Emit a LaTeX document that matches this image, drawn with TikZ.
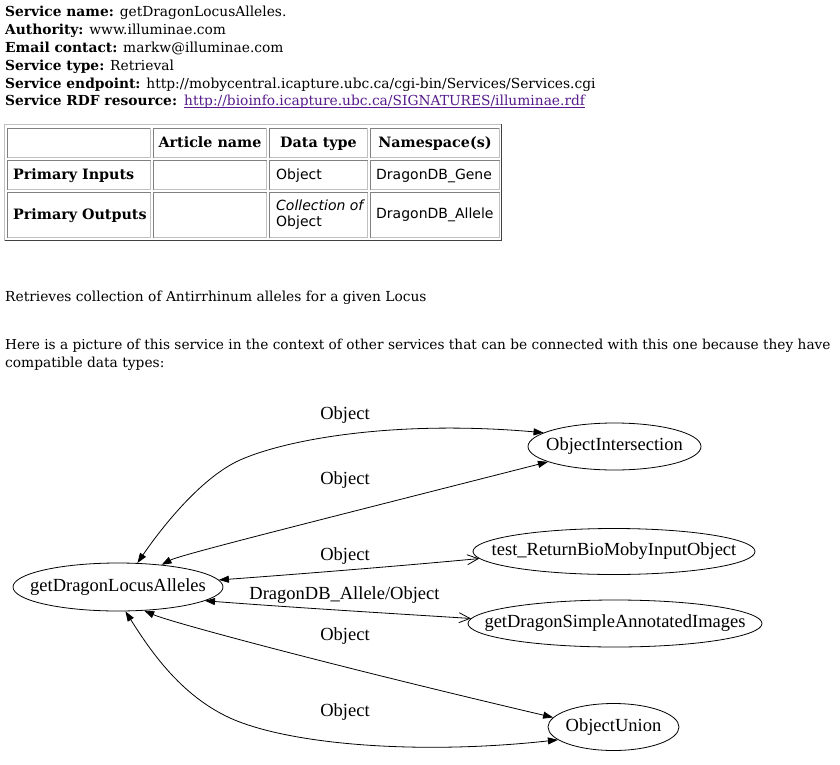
\documentclass[tikz,border=0pt]{standalone}
\usepackage{fontspec}
\setmainfont{DejaVu Serif}
\newfontfamily\gfont{Liberation Serif}
\newfontfamily\tfont{DejaVu Sans}
\usetikzlibrary{shapes.geometric,arrows.meta}
\definecolor{linkc}{HTML}{551A8B}
\definecolor{clight}{HTML}{C0C0C0}
\definecolor{cdark}{HTML}{808080}
\definecolor{odark}{HTML}{404040}
\begin{document}
\begin{tikzpicture}[x=1pt,y=-1pt,
  hdr/.style={anchor=base west, inner sep=0, font=\fontsize{13.8}{16}\selectfont},
  cell/.style={anchor=base west, inner sep=0, font=\tfont\fontsize{14}{16}\selectfont},
  chead/.style={anchor=base, inner sep=0, font=\bfseries\fontsize{14.3}{16}\selectfont},
  rowhead/.style={anchor=base west, inner sep=0, font=\bfseries\fontsize{14.3}{16}\selectfont},
  border/.style={line width=1pt},
  svc/.style={ellipse, draw, line width=0.8pt, inner sep=0},
  lbl/.style={inner sep=0, font=\gfont\fontsize{18.5}{20}\selectfont},
  fa/.style={line width=0.8pt, {Triangle[length=10pt,width=7pt]}-{Triangle[length=10pt,width=7pt]}},
  oa/.style={line width=0.8pt, {Triangle[length=10pt,width=7pt]}-{Straight Barb[length=11pt,width=10pt]}}]
\useasboundingbox (0,0) rectangle (840,765);
% header lines
\node[hdr] (h1) at (5,17) {\textbf{Service name:} getDragonLocusAlleles.};
\node[hdr] (h2) at (5,34.8) {\textbf{Authority:} www.illuminae.com};
\node[hdr] (h3) at (5,52.6) {\textbf{Email contact:} markw@illuminae.com};
\node[hdr] (h4) at (5,70.4) {\textbf{Service type:} Retrieval};
\node[hdr] (h5) at (5,88.2) {\textbf{Service endpoint:} http://mobycentral.icapture.ubc.ca/cgi-bin/Services/Services.cgi};
\node[hdr] (h6) at (5,106) {\textbf{Service RDF resource:}};
\node[hdr, text=linkc] (h6l) at (184,106) {http://bioinfo.icapture.ubc.ca/SIGNATURES/illuminae.rdf};
\draw[linkc, line width=1pt] ([yshift=-2pt]h6l.base west) -- ([yshift=-2pt]h6l.base east);
% table
\draw[border, clight] (4.5,240.5) -- (4.5,124.5) -- (501.5,124.5);
\draw[border, odark] (501.5,124.5) -- (501.5,240.5) -- (4.5,240.5);
\foreach \xa/\xb in {7.5/150.5,153.5/266.5,269.5/367.5,370.5/499.5}{
  \foreach \ya/\yb in {128.5/157.5,160.5/189.5,192.5/237.5}{
    \draw[border, cdark] (\xa,\yb) -- (\xa,\ya) -- (\xb,\ya);
    \draw[border, clight] (\xb,\ya) -- (\xb,\yb) -- (\xa,\yb);
  }}
\node[chead] (t12) at (210,147.5) {Article name};
\node[chead] (t13) at (318.5,147.5) {Data type};
\node[chead] (t14) at (435,147.5) {Namespace(s)};
\node[rowhead] (t21) at (13,179.5) {Primary Inputs};
\node[cell] (t23) at (276,179.5) {Object};
\node[cell] (t24) at (376,179.5) {DragonDB\_Gene};
\node[rowhead] (t31) at (13,219.5) {Primary Outputs};
\node[cell, font=\tfont\itshape\fontsize{14}{16}\selectfont] (t33a) at (276,210.5) {Collection of};
\node[cell] (t33b) at (276,226.5) {Object};
\node[cell] (t34) at (376,218.5) {DragonDB\_Allele};
% description
\node[hdr] (d1) at (5,301.5) {Retrieves collection of Antirrhinum alleles for a given Locus};
\node[hdr, font=\fontsize{13.7}{16}\selectfont] (d2) at (5,349.5) {Here is a picture of this service in the context of other services that can be connected with this one because they have};
\node[hdr] (d3) at (5,367) {compatible data types:};
% graph nodes
\node[svc, minimum width=210pt, minimum height=48pt] (g) at (118,587) {};
\node[lbl] (gt) at (g) {getDragonLocusAlleles};
\node[svc, minimum width=173pt, minimum height=47pt] (oi) at (614.5,446.5) {};
\node[lbl] (oit) at (oi) {ObjectIntersection};
\node[svc, minimum width=282pt, minimum height=46pt] (tr) at (614,551.5) {};
\node[lbl] (trt) at (tr) {test\_ReturnBioMobyInputObject};
\node[svc, minimum width=294pt, minimum height=47pt] (gs) at (615,623.5) {};
\node[lbl] (gst) at (gs) {getDragonSimpleAnnotatedImages};
\node[svc, minimum width=131pt, minimum height=47pt] (ou) at (613.5,727) {};
\node[lbl] (out) at (ou) {ObjectUnion};
% edges
\draw[fa] (g.51) .. controls (160,530) and (200,478) .. (240,460) .. controls (290,438) and (400,420) .. (oi.169.5);
\draw[fa] (g.27) .. controls (180,555) and (300,525) .. (oi.193.5);
\draw[oa] (g.4) .. controls (300,574) and (400,566) .. (tr.183);
\draw[oa] (g.-9) .. controls (300,608) and (400,614) .. (gs.178.6);
\draw[fa] (g.-42) .. controls (170,622) and (330,665) .. (ou.171);
\draw[fa] (g.-73) .. controls (150,650) and (180,695) .. (230,718) .. controls (290,745) and (420,755) .. (ou.193);
% edge labels
\node[lbl] (e1) at (345,415) {Object};
\node[lbl] (e2) at (345,480) {Object};
\node[lbl] (e3) at (345,556) {Object};
\node[lbl] (e4) at (344.5,595) {DragonDB\_Allele/Object};
\node[lbl] (e5) at (345,636) {Object};
\node[lbl] (e6) at (345,712) {Object};
\end{tikzpicture}
\end{document}
